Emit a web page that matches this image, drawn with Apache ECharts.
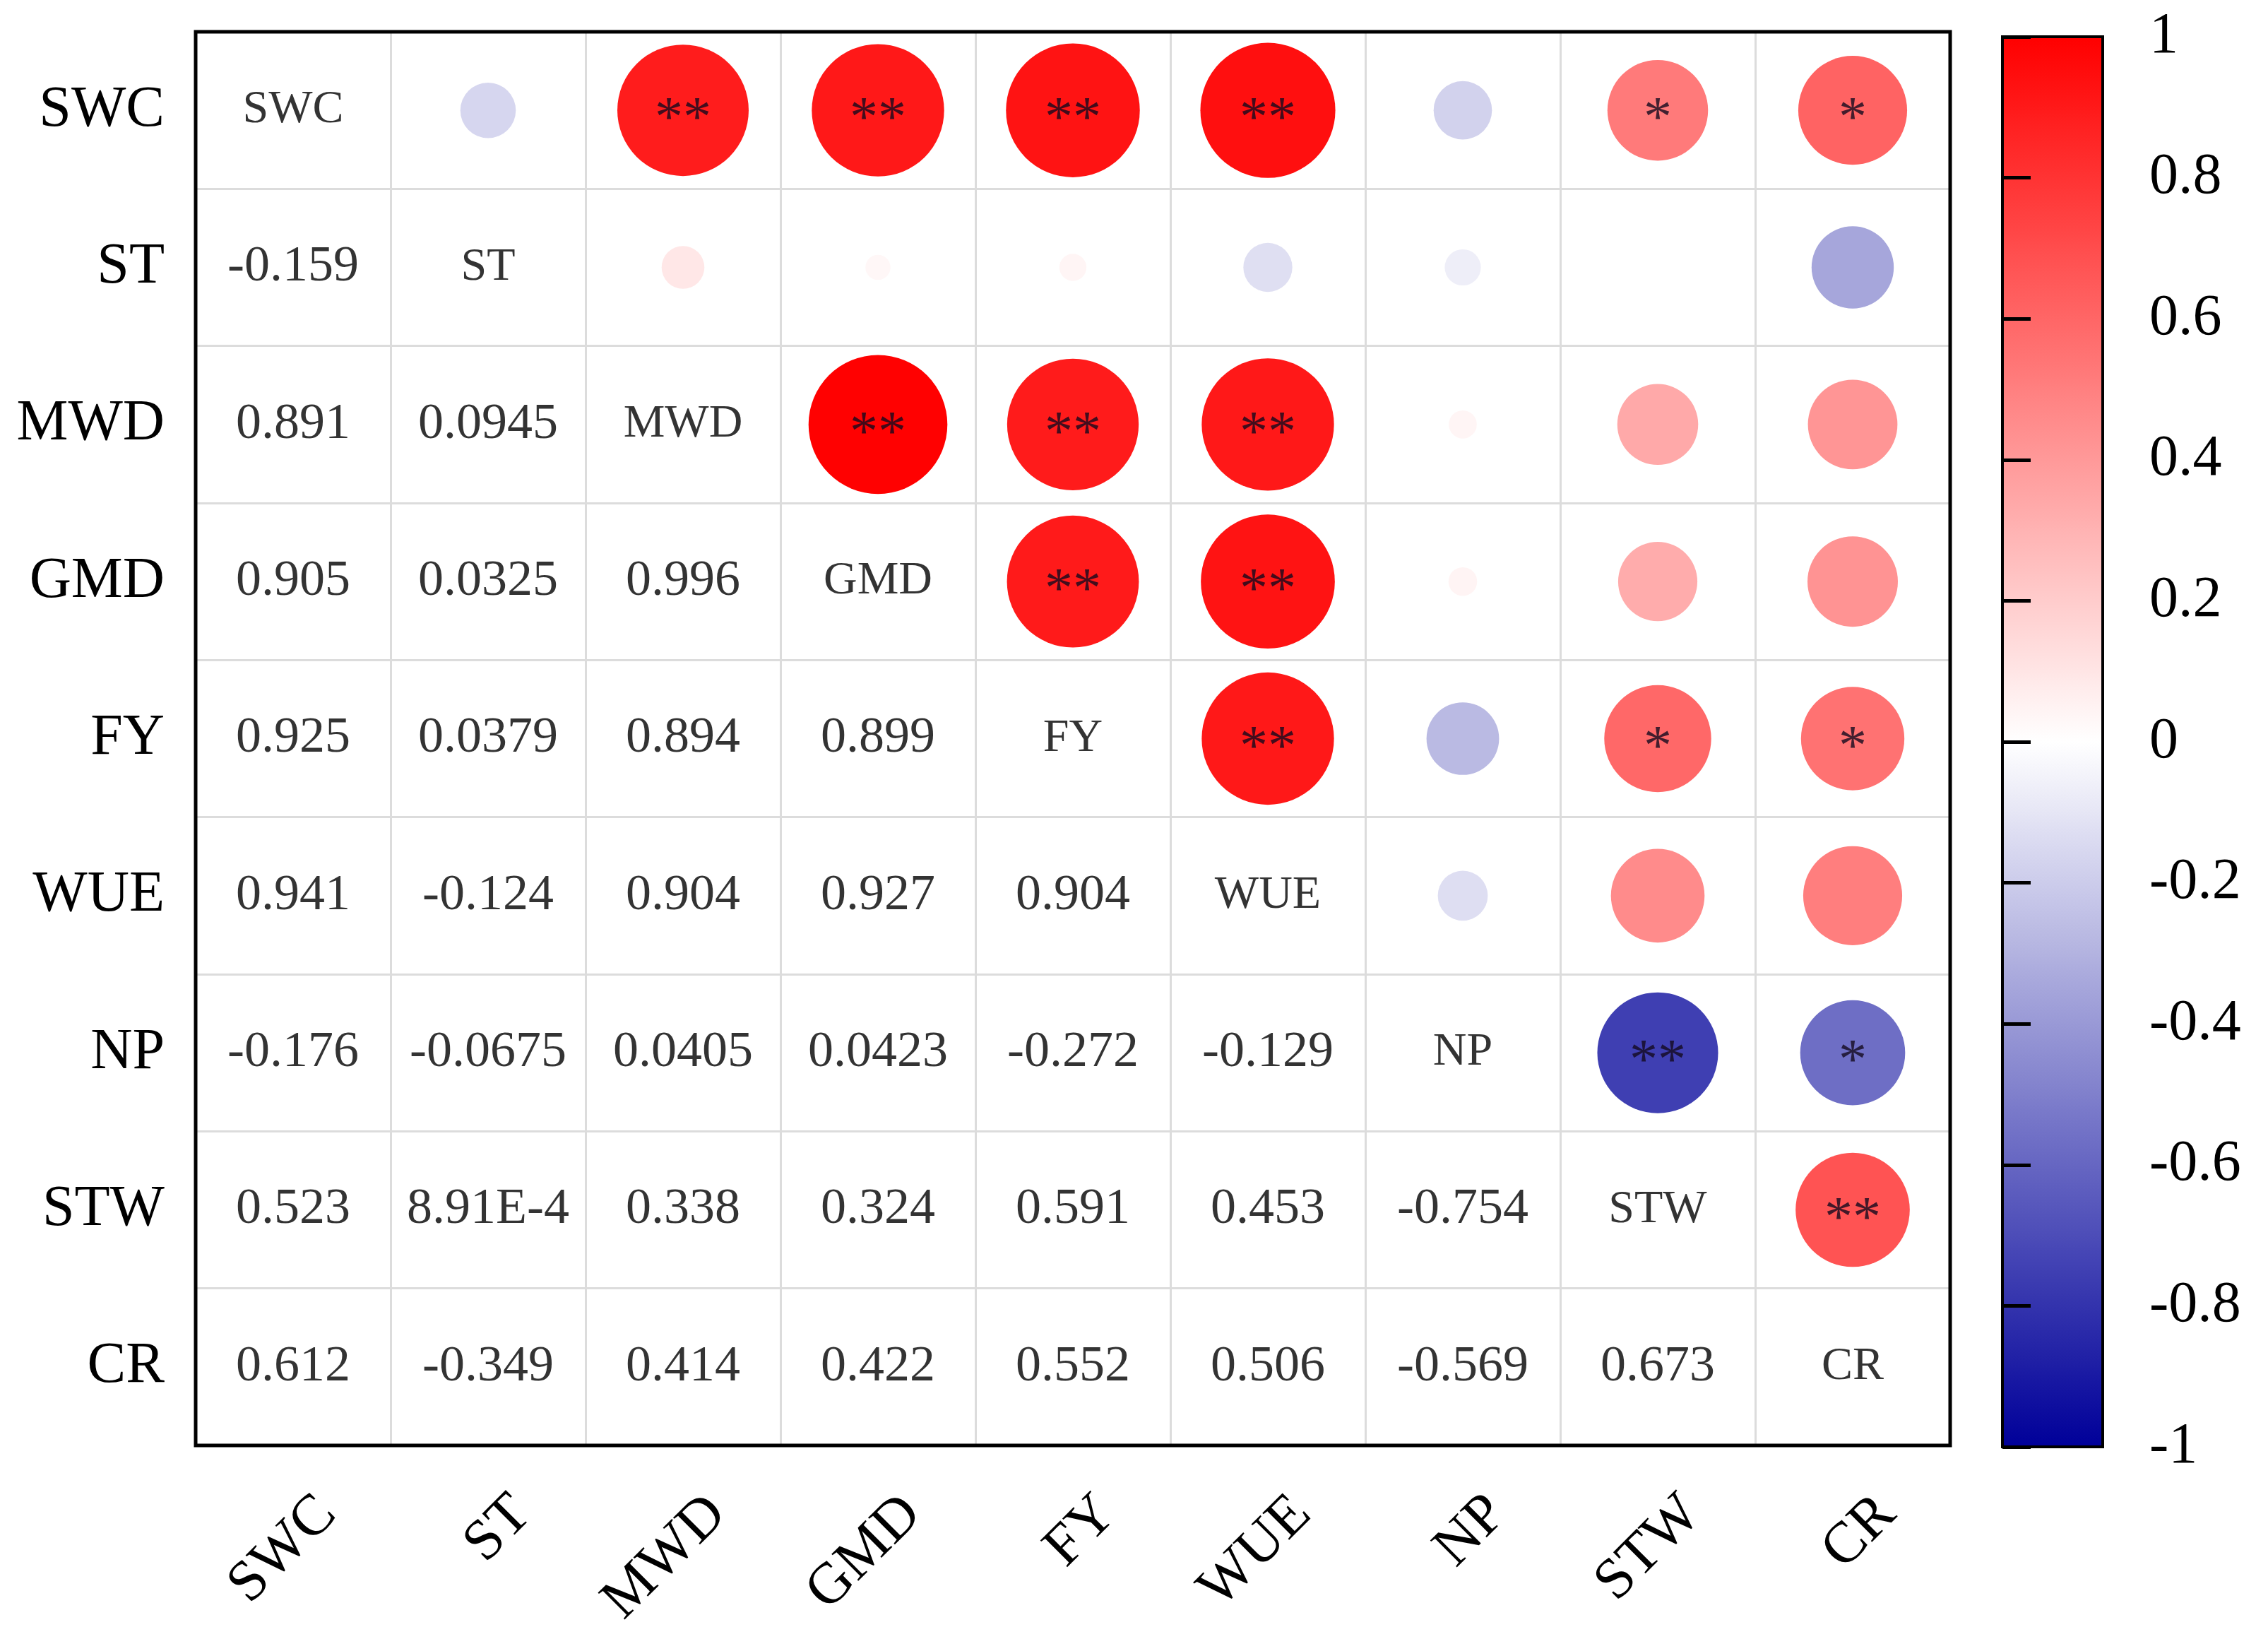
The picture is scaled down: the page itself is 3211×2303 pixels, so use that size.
<!DOCTYPE html>
<html lang="en">
<head>
  <meta charset="UTF-8">
  <title>correlation</title>
  <script src="https://cdn.jsdelivr.net/npm/echarts@6/dist/echarts.min.js"></script>
  <style>
    html,body{margin:0;padding:0;background:#fff;}
    #main{width:3211px;height:2303px;}
  </style>
</head>
<body>
<div id="main"></div>
<script>
    // variable names
    var names = ['SWC','ST','MWD','GMD','FY','WUE','NP','STW','CR'];

    // lower triangle of the correlation matrix, one row per variable
    var rowST  = [-0.159];
    var rowMWD = [0.891, 0.0945];
    var rowGMD = [0.905, 0.0325, 0.996];
    var rowFY  = [0.925, 0.0379, 0.894, 0.899];
    var rowWUE = [0.941, -0.124, 0.904, 0.927, 0.904];
    var rowNP  = [-0.176, -0.0675, 0.0405, 0.0423, -0.272, -0.129];
    var rowSTW = [0.523, 0.000891, 0.338, 0.324, 0.591, 0.453, -0.754];
    var rowCR  = [0.612, -0.349, 0.414, 0.422, 0.552, 0.506, -0.569, 0.673];

    // significance marks, same layout
    var sigST  = [''];
    var sigMWD = ['**',''];
    var sigGMD = ['**','','**'];
    var sigFY  = ['**','','**','**'];
    var sigWUE = ['**','','**','**','**'];
    var sigNP  = ['','','','','',''];
    var sigSTW = ['*','','','','*','','**'];
    var sigCR  = ['*','','','','*','','*','**'];

    var rows = [[], rowST, rowMWD, rowGMD, rowFY, rowWUE, rowNP, rowSTW, rowCR];
    var sigs = [[], sigST, sigMWD, sigGMD, sigFY, sigWUE, sigNP, sigSTW, sigCR];

    var circles = [], numbers = [], diag = [];
    for (var i = 0; i < names.length; i++) {
      diag.push([i, i, names[i]]);
      for (var j = 0; j < rows[i].length; j++) {
        var v = rows[i][j];
        numbers.push([j, i, v]);
        circles.push({value:[i, j, v], sig:sigs[i][j]});
      }
    }

    function fmt(v){
      if (Math.abs(v) < 0.001) return v.toExponential(2).toUpperCase();
      return v.toPrecision(3);
    }

    var font = "'Liberation Serif', 'Times New Roman', serif";
    var chart = echarts.init(document.getElementById('main'));
    chart.setOption({
      backgroundColor:'#fff',
      animation:false,
      grid:[
        {left:277, top:45, width:2484, height:2001, outerBoundsMode:'none', containLabel:false,
         show:true, borderColor:'#000', borderWidth:5, backgroundColor:'transparent', z:3},
        {left:2835, top:52, width:142, height:1996, outerBoundsMode:'none', containLabel:false,
         show:true, borderColor:'#000', borderWidth:4, backgroundColor:'transparent', z:10}
      ],
      xAxis:[
        {gridIndex:0, type:'category', data:names, boundaryGap:true,
         axisLine:{show:false}, axisTick:{show:false},
         splitLine:{show:true, lineStyle:{color:'#dcdcdc', width:3}},
         axisLabel:{rotate:45, margin:36, verticalAlign:'top', lineHeight:138, fontFamily:font, fontSize:82, color:'#000'}},
        {gridIndex:1, type:'value', min:0, max:1, show:false}
      ],
      yAxis:[
        {gridIndex:0, type:'category', data:names, inverse:true, boundaryGap:true,
         axisLine:{show:false}, axisTick:{show:false},
         splitLine:{show:true, lineStyle:{color:'#dcdcdc', width:3}},
         axisLabel:{margin:44, fontFamily:font, fontSize:82, color:'#000'}},
        {gridIndex:1, type:'value', min:-1, max:1, interval:0.2, position:'right', z:10,
         axisLine:{show:false},
         axisTick:{show:true, inside:false, length:40, lineStyle:{color:'#000', width:5}},
         splitLine:{show:false},
         axisLabel:{margin:66, fontFamily:font, fontSize:82, color:'#000',
           formatter:function(v){ return String(Math.round(v*10)/10); }}}
      ],
      visualMap:{
        type:'continuous', min:-1, max:1, dimension:2, seriesIndex:[0],
        calculable:false, hoverLink:false, left:2835, top:52,
        itemWidth:142, itemHeight:1996, text:null, showLabel:false,
        padding:0, borderWidth:0,
        inRange:{color:['#000099','#ffffff','#ff0000']}
      },
      series:[
        {type:'scatter', xAxisIndex:0, yAxisIndex:0, data:circles, z:2,
         symbol:'circle', itemStyle:{opacity:1},
         symbolSize:function(val){ return 197*Math.sqrt(Math.abs(val[2])); },
         label:{show:true, position:'inside', offset:[0,15],
           formatter:function(p){ return p.data.sig; },
           fontFamily:font, fontSize:80, color:'rgba(20,10,30,0.8)'}},
        {type:'scatter', xAxisIndex:0, yAxisIndex:0, data:numbers, symbolSize:1,
         itemStyle:{color:'transparent'},
         label:{show:true, position:'inside',
           formatter:function(p){ return fmt(p.value[2]); },
           fontFamily:font, fontSize:72, color:'#000'}},
        {type:'scatter', xAxisIndex:0, yAxisIndex:0, data:diag, symbolSize:1,
         itemStyle:{color:'transparent'},
         label:{show:true, position:'inside',
           formatter:function(p){ return p.value[2]; },
           fontFamily:font, fontSize:66, color:'#000'}},
        {type:'scatter', xAxisIndex:1, yAxisIndex:1, data:[]}
      ]
    });
</script>
</body>
</html>
